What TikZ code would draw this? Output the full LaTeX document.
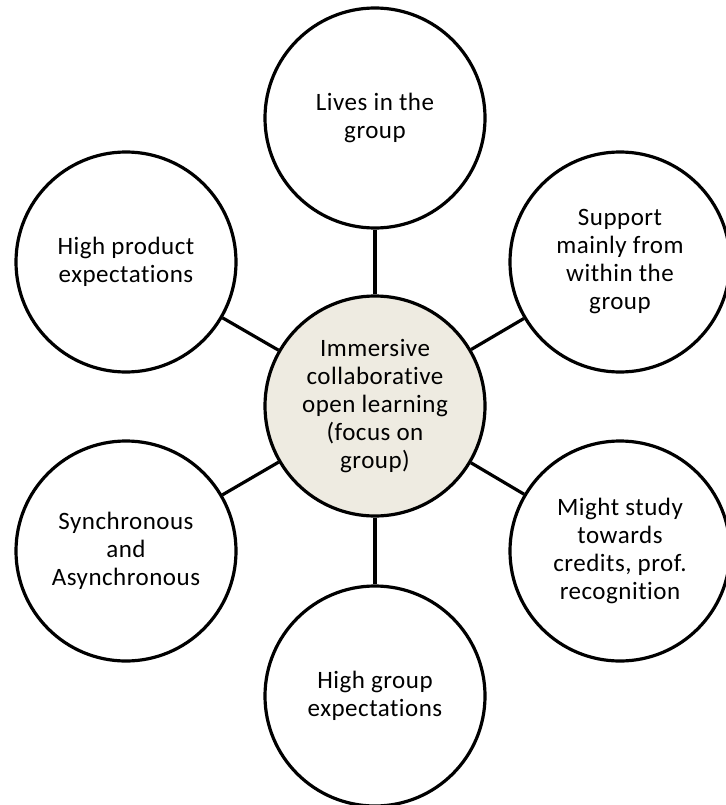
\documentclass[tikz,border=0pt]{standalone}
\usepackage{fontspec}
\setmainfont{Carlito}[LetterSpace=2,Ligatures=NoCommon]
\definecolor{hubfill}{HTML}{EEEBE1}
\begin{document}
\begin{tikzpicture}[x=1pt,y=1pt,
  bubble/.style={circle, draw=black, line width=3.2pt, fill=white,
    minimum size=220pt, inner sep=0pt, align=center,
    font=\fontsize{25}{28}\selectfont},
  hub/.style={bubble, fill=hubfill},
  link/.style={draw=black, line width=3.2pt}]
\useasboundingbox (0,0) rectangle (725,-805);
\node[hub]    (c)  at (375,-406) {Immersive\\collaborative\\open learning\\(focus on\\group)};
\node[bubble] (t)  at (375,-118) {Lives in the\\group};
\node[bubble] (tl) at (126,-262) {High product\\expectations};
\node[bubble] (tr) at (620,-262) {Support\\mainly from\\within the\\group};
\node[bubble] (bl) at (126,-551) {Synchronous\\and\\Asynchronous};
\node[bubble] (br) at (620,-551) {Might study\\towards\\credits, prof.\\recognition};
\node[bubble] (b)  at (375,-696) {High group\\expectations};
\foreach \n in {t,tl,tr,bl,br,b} \path[link] (c) -- (\n);
\end{tikzpicture}
\end{document}
